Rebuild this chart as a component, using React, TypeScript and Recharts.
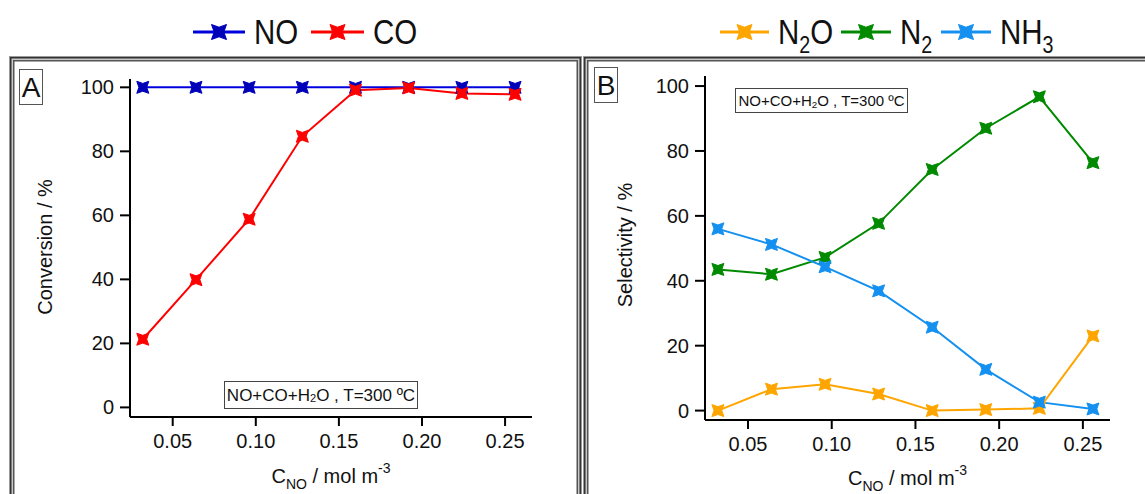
import React from 'react';
import { LineChart, Line, XAxis, YAxis } from 'recharts';

// C_NO (mol m-3) for every measured point
const cNO = [0.032, 0.064, 0.096, 0.128, 0.16, 0.192, 0.224, 0.256];

// panel A: conversion, %
const convNO = [100, 100, 100, 100, 100, 100, 100, 100];
const convCO = [21.3, 39.9, 58.8, 84.7, 99.1, 99.8, 98.1, 97.8];

// panel B: selectivity, %
const selN2O = [0, 6.6, 8.1, 5.1, 0, 0.3, 0.7, 23.0];
const selN2 = [43.5, 42.0, 47.2, 57.7, 74.3, 87.0, 96.7, 76.4];
const selNH3 = [56.0, 51.2, 44.3, 36.9, 25.7, 12.7, 2.6, 0.5];

const xTicks = [0.05, 0.1, 0.15, 0.2, 0.25];
const yTicks = [0, 20, 40, 60, 80, 100];

const FONT = '"Liberation Sans", Arial, Helvetica, sans-serif';
const INK = '#111';

const C = {
  no: '#0000dd',
  noMark: '#0000b8',
  co: '#ff0000',
  n2o: '#ffa500',
  n2: '#008a00',
  nh3: '#1490f0',
};

/** estrela de 4 pontas (marcador do Igor) */
const starPath = (cx: number, cy: number, r = 6, k = 3.9) =>
  `M${cx - r},${cy - r}L${cx},${cy - k}L${cx + r},${cy - r}L${cx + k},${cy}` +
  `L${cx + r},${cy + r}L${cx},${cy + k}L${cx - r},${cy + r}L${cx - k},${cy}Z`;

const starDot = (color: string) => (p: any) =>
  <path key={`dot-${p.index}`} d={starPath(p.cx, p.cy)} fill={color} stroke={color} strokeWidth={1} />;

const YTitle: React.FC<any> = ({ px, py, text }) => (
  <text
    x={px}
    y={py}
    transform={`rotate(-90 ${px} ${py})`}
    textAnchor="middle"
    dominantBaseline="central"
    fontSize={20}
    fill={INK}
    fontFamily={FONT}
  >
    {text}
  </text>
);

const XTitle: React.FC<any> = ({ px, py }) => (
  <text x={px} y={py} textAnchor="middle" fontSize={20} fill={INK} fontFamily={FONT}>
    C<tspan fontSize={14} dy={6}>NO</tspan>
    <tspan dy={-6}> / mol m</tspan>
    <tspan fontSize={14} dy={-10}>-3</tspan>
  </text>
);

const Frame: React.FC<{ left: number; width: number }> = ({ left, width }) => (
  <div
    style={{
      position: 'absolute',
      left,
      top: 56,
      width,
      height: 470,
      boxSizing: 'border-box',
      border: '1px solid #999',
      boxShadow: 'inset 0 0 0 1.5px #333, inset 0 0 0 3px #c8c8c8, inset 0 0 0 4.5px #555',
    }}
  />
);

const PanelTag: React.FC<{ left: number; top: number; letter: string }> = ({ left, top, letter }) => (
  <div
    style={{
      position: 'absolute',
      left,
      top,
      width: 24,
      height: 36,
      boxSizing: 'border-box',
      border: '1px solid #555',
      fontSize: 28,
      lineHeight: '28px',
      paddingTop: 4,
      textAlign: 'center',
      color: INK,
    }}
  >
    {letter}
  </div>
);

const Note: React.FC<{ left: number; top: number; width: number; height: number; size: number }> = ({
  left,
  top,
  width,
  height,
  size,
}) => (
  <div
    style={{
      position: 'absolute',
      left,
      top,
      width,
      height,
      boxSizing: 'border-box',
      border: '1px solid #444',
      background: '#fff',
      fontSize: size,
      lineHeight: 1,
      display: 'flex',
      alignItems: 'center',
      justifyContent: 'center',
      whiteSpace: 'nowrap',
      color: INK,
    }}
  >
    NO+CO+H<span style={{ fontSize: size * 0.65, position: 'relative', top: 4 }}>2</span>O , T=300 ºC
  </div>
);

// item da legenda: linha + estrela + texto (condensado)
const LegendItem: React.FC<{ x: number; len: number; color: string; mark: string; children: React.ReactNode }> = ({
  x,
  len,
  color,
  mark,
  children,
}) => (
  <g>
    <line x1={x} y1={32} x2={x + len} y2={32} stroke={color} strokeWidth={3} />
    <path d={starPath(x + len / 2, 32, 7.5, 4.8)} fill={mark} stroke={mark} />
    <g transform={`translate(${x + len + 9},44) scale(0.82,1)`}>
      <text x={0} y={0} fontSize={36} fill={INK} fontFamily={FONT}>
        {children}
      </text>
    </g>
  </g>
);

const tickStyle = { fontSize: 20, fill: INK, fontFamily: FONT };
const axisStroke = { stroke: '#000', strokeWidth: 2 };
const xDomain = [0.0243, 0.2662];

export default function App() {
  const rowsA = cNO.map((x, i) => ({ x, no: convNO[i], co: convCO[i] }));
  const rowsB = cNO.map((x, i) => ({ x, n2o: selN2O[i], n2: selN2[i], nh3: selNH3[i] }));

  return (
    <div
      style={{
        position: 'absolute',
        left: 0,
        top: 0,
        width: 1145,
        height: 494,
        overflow: 'hidden',
        background: '#fff',
        fontFamily: FONT,
      }}
    >
      <Frame left={9} width={573} />
      <Frame left={583} width={600} />
      <PanelTag left={19} top={69} letter="A" />
      <PanelTag left={594} top={67} letter="B" />

      {/* Legendas */}
      <svg width={1145} height={60} style={{ position: 'absolute', left: 0, top: 0 }}>
        <LegendItem x={193} len={52} color={C.no} mark={C.noMark}>NO</LegendItem>
        <LegendItem x={311} len={53} color={C.co} mark={C.co}>CO</LegendItem>
        <LegendItem x={720} len={49} color={C.n2o} mark={C.n2o}>
          N<tspan fontSize={24} dy={9}>2</tspan>
          <tspan dy={-9}>O</tspan>
        </LegendItem>
        <LegendItem x={841} len={50} color={C.n2} mark={C.n2}>
          N<tspan fontSize={24} dy={9}>2</tspan>
        </LegendItem>
        <LegendItem x={941} len={50} color={C.nh3} mark={C.nh3}>
          NH<tspan fontSize={24} dy={9}>3</tspan>
        </LegendItem>
      </svg>

      {/* Painel A */}
      <div style={{ position: 'absolute', left: 0, top: 0 }}>
        <LineChart width={580} height={494} data={rowsA} margin={{ top: 79, right: 48, bottom: 37, left: 70 }}>
          <XAxis
            dataKey="x"
            type="number"
            domain={xDomain}
            allowDataOverflow
            ticks={xTicks}
            interval={0}
            tickFormatter={(v: number) => v.toFixed(2)}
            tick={tickStyle}
            tickSize={9}
            tickMargin={8}
            height={40}
            axisLine={axisStroke}
            tickLine={axisStroke}
            label={<XTitle px={331} py={483} />}
          />
          <XAxis
            xAxisId="top"
            orientation="top"
            dataKey="x"
            type="number"
            domain={xDomain}
            allowDataOverflow
            height={0}
            tick={false}
            tickLine={false}
            axisLine={axisStroke}
          />
          <YAxis
            type="number"
            domain={[-3, 102.6]}
            allowDataOverflow
            ticks={yTicks}
            interval={0}
            tick={tickStyle}
            tickSize={10}
            tickMargin={6}
            width={60}
            axisLine={axisStroke}
            tickLine={axisStroke}
            label={<YTitle px={45} py={247} text="Conversion / %" />}
          />
          <YAxis
            yAxisId="right"
            orientation="right"
            type="number"
            domain={[-3, 102.6]}
            allowDataOverflow
            width={0}
            tick={false}
            tickLine={false}
            axisLine={axisStroke}
          />
          <Line
            type="linear"
            dataKey="no"
            stroke={C.no}
            strokeWidth={2}
            dot={starDot(C.noMark)}
            isAnimationActive={false}
          />
          <Line
            type="linear"
            dataKey="co"
            stroke={C.co}
            strokeWidth={2}
            dot={starDot(C.co)}
            isAnimationActive={false}
          />
        </LineChart>
      </div>

      {/* Painel B */}
      <div style={{ position: 'absolute', left: 580, top: 0 }}>
        <LineChart width={565} height={494} data={rowsB} margin={{ top: 76, right: 35, bottom: 34, left: 65 }}>
          <XAxis
            dataKey="x"
            type="number"
            domain={xDomain}
            allowDataOverflow
            ticks={xTicks}
            interval={0}
            tickFormatter={(v: number) => v.toFixed(2)}
            tick={tickStyle}
            tickSize={9}
            tickMargin={8}
            height={40}
            axisLine={axisStroke}
            tickLine={axisStroke}
            label={<XTitle px={327.5} py={485} />}
          />
          <XAxis
            xAxisId="top"
            orientation="top"
            dataKey="x"
            type="number"
            domain={xDomain}
            allowDataOverflow
            height={0}
            tick={false}
            tickLine={false}
            axisLine={axisStroke}
          />
          <YAxis
            type="number"
            domain={[-2.9, 103.1]}
            allowDataOverflow
            ticks={yTicks}
            interval={0}
            tick={tickStyle}
            tickSize={10}
            tickMargin={6}
            width={60}
            axisLine={axisStroke}
            tickLine={axisStroke}
            label={<YTitle px={45} py={245} text="Selectivity / %" />}
          />
          <YAxis
            yAxisId="right"
            orientation="right"
            type="number"
            domain={[-2.9, 103.1]}
            allowDataOverflow
            width={0}
            tick={false}
            tickLine={false}
            axisLine={axisStroke}
          />
          <Line
            type="linear"
            dataKey="n2o"
            stroke={C.n2o}
            strokeWidth={2}
            dot={starDot(C.n2o)}
            isAnimationActive={false}
          />
          <Line
            type="linear"
            dataKey="n2"
            stroke={C.n2}
            strokeWidth={2}
            dot={starDot(C.n2)}
            isAnimationActive={false}
          />
          <Line
            type="linear"
            dataKey="nh3"
            stroke={C.nh3}
            strokeWidth={2}
            dot={starDot(C.nh3)}
            isAnimationActive={false}
          />
        </LineChart>
      </div>

      <Note left={224} top={381} width={194} height={28} size={17} />
      <Note left={735} top={88} width={173} height={25} size={15} />
    </div>
  );
}
